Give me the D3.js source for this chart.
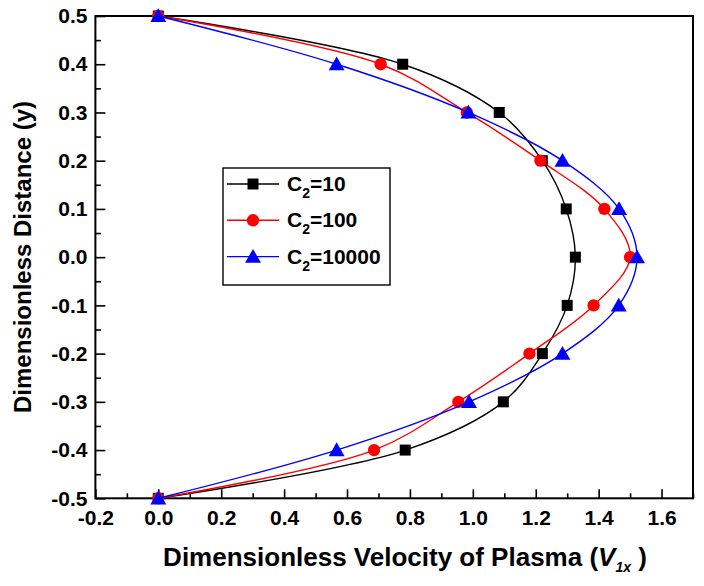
<!DOCTYPE html>
<html>
<head>
<meta charset="utf-8">
<script src="https://cdn.jsdelivr.net/npm/d3@7"></script>
<style>
	body { margin: 0; background: #fff; }
	text { font-family: "Liberation Sans", Arial, sans-serif; font-weight: bold; }
</style>
</head>
<body>
<script>
// y positions across the channel
var yVals = [0.5, 0.4, 0.3, 0.2, 0.1, 0.0, -0.1, -0.2, -0.3, -0.4, -0.5];

// velocity profiles
var c10    = [0, 0.777, 1.084, 1.221, 1.297, 1.326, 1.300, 1.221, 1.097, 0.785, 0];
var c100   = [0, 0.707, 0.981, 1.215, 1.418, 1.500, 1.384, 1.180, 0.954, 0.686, 0];
var c10000 = [0, 0.567, 0.986, 1.285, 1.465, 1.522, 1.464, 1.285, 0.988, 0.567, 0];

var seriesNames = ["10", "100", "10000"];

var xTicks = [-0.2, 0.0, 0.2, 0.4, 0.6, 0.8, 1.0, 1.2, 1.4, 1.6];
var xTickLabels = ["-0.2", "0.0", "0.2", "0.4", "0.6", "0.8", "1.0", "1.2", "1.4", "1.6"];
var yTicks = [0.5, 0.4, 0.3, 0.2, 0.1, 0.0, -0.1, -0.2, -0.3, -0.4, -0.5];
var yTickLabels = ["0.5", "0.4", "0.3", "0.2", "0.1", "0.0", "-0.1", "-0.2", "-0.3", "-0.4", "-0.5"];

var WIDTH = 704;
var HEIGHT = 586;
var pLeft = 95.4, pRight = 693, pTop = 16, pBottom = 498.3;

var svg = d3.select("body")
			.append("svg")
			.attr("width", WIDTH)
			.attr("height", HEIGHT);

svg.append("rect")
	.attr("width", WIDTH)
	.attr("height", HEIGHT)
	.attr("fill", "#fff");

var x = d3.scaleLinear().domain([-0.2, 1.7]).range([pLeft, pRight]);
var y = d3.scaleLinear().domain([-0.5, 0.5]).range([pBottom, pTop]);

// inward ticks, majors labelled
var xMinor = d3.range(-0.1, 1.71, 0.2);
var yMinor = d3.range(-0.45, 0.5, 0.1);

var xAxis = d3.axisBottom(x).tickValues(xTicks).tickSize(-9).tickPadding(12)
	.tickFormat(function(d, i){ return xTickLabels[i]; });
var yAxis = d3.axisLeft(y).tickValues(yTicks).tickSize(-10).tickPadding(8)
	.tickFormat(function(d, i){ return yTickLabels[i]; });

var gx = svg.append("g").attr("transform", "translate(0," + pBottom + ")").call(xAxis);
var gy = svg.append("g").attr("transform", "translate(" + pLeft + ",0)").call(yAxis);

svg.append("g").attr("transform", "translate(0," + pBottom + ")")
	.call(d3.axisBottom(x).tickValues(xMinor).tickSize(-5).tickFormat(""));
svg.append("g").attr("transform", "translate(" + pLeft + ",0)")
	.call(d3.axisLeft(y).tickValues(yMinor).tickSize(-5.5).tickFormat(""));

svg.selectAll(".domain").remove();
svg.selectAll(".tick line").attr("stroke", "#000").attr("stroke-width", 1.6);
svg.selectAll(".tick text").attr("fill", "#000").style("font-size", "21px");

svg.append("rect")
	.attr("x", pLeft).attr("y", pTop)
	.attr("width", pRight - pLeft).attr("height", pBottom - pTop)
	.attr("fill", "none").attr("stroke", "#000").attr("stroke-width", 2);

var series = [
	{ name: seriesNames[0], vals: c10, color: "#000000", shape: "square" },
	{ name: seriesNames[1], vals: c100, color: "#ff0000", shape: "circle" },
	{ name: seriesNames[2], vals: c10000, color: "#0000ff", shape: "triangle" }
];

var line = d3.line()
	.x(function(d){ return x(d.v); })
	.y(function(d){ return y(d.y); })
	.curve(d3.curveCatmullRom.alpha(0.5));

var symbolFor = function(shape) {
	if (shape == "square") return d3.symbol().type(d3.symbolSquare).size(121)();
	if (shape == "circle") return d3.symbol().type(d3.symbolCircle).size(120)();
	return d3.symbol().type(d3.symbolTriangle).size(110)();
}

var plot = svg.append("g");

for (var s = 0; s < series.length; s++){
	var pts = yVals.map(function(d, i){ return { y: d, v: series[s].vals[i] }; });
	plot.append("path")
		.datum(pts)
		.attr("d", line)
		.attr("fill", "none")
		.attr("stroke", series[s].color)
		.attr("stroke-width", 1.4);
	plot.selectAll(".m" + s)
		.data(pts)
		.enter()
		.append("path")
		.attr("class", "m" + s)
		.attr("d", symbolFor(series[s].shape))
		.attr("transform", function(d){
			var dy = series[s].shape == "triangle" ? 1.5 : 0;
			return "translate(" + x(d.v) + "," + (y(d.y) + dy) + ")";
		})
		.attr("fill", series[s].color);
}

// legend
var lg = svg.append("g").attr("transform", "translate(223,168)");
lg.append("rect")
	.attr("width", 167).attr("height", 117)
	.attr("fill", "#fff").attr("stroke", "#000").attr("stroke-width", 1.4);

for (var k = 0; k < series.length; k++){
	var ry = 16 + k * 36.3;
	lg.append("line")
		.attr("x1", 4).attr("x2", 56).attr("y1", ry).attr("y2", ry)
		.attr("stroke", series[k].color).attr("stroke-width", 1.4);
	lg.append("path")
		.attr("d", symbolFor(series[k].shape))
		.attr("transform", "translate(30," + (ry + (series[k].shape == "triangle" ? 1.5 : 0)) + ")")
		.attr("fill", series[k].color);
	var t = lg.append("text")
		.attr("x", 64).attr("y", ry + 7)
		.style("font-size", "21px")
		.attr("fill", "#000");
	t.append("tspan").text("C");
	t.append("tspan").attr("dy", 7).style("font-size", "14px").text("2");
	t.append("tspan").attr("dy", -7).text("=" + series[k].name);
}

// axis titles
var xt = svg.append("text")
	.attr("x", 405).attr("y", 566)
	.attr("text-anchor", "middle")
	.style("font-size", "26px")
	.attr("fill", "#000");
xt.append("tspan").text("Dimensionless Velocity of Plasma (");
xt.append("tspan").style("font-style", "italic").text("V");
xt.append("tspan").attr("dy", 6).style("font-style", "italic").style("font-size", "14px").text("1x");
xt.append("tspan").attr("dy", -6).text(" )");

svg.append("text")
	.attr("transform", "translate(31,257) rotate(-90)")
	.attr("text-anchor", "middle")
	.style("font-size", "24px")
	.attr("fill", "#000")
	.text("Dimensionless Distance (y)");
</script>
</body>
</html>
